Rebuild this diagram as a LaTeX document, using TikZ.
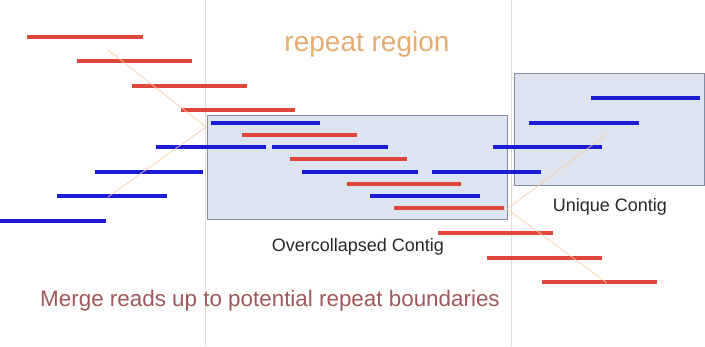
\documentclass[tikz,border=0pt]{standalone}
\usepackage{fontspec}
\setmainfont{Liberation Sans}
\definecolor{readred}{RGB}{224,70,58}
\definecolor{readblue}{RGB}{28,28,212}
\definecolor{contigfill}{RGB}{222,227,240}
\definecolor{contigdraw}{RGB}{130,140,162}
\definecolor{guide}{RGB}{228,220,208}
\definecolor{trace}{RGB}{244,206,166}
\definecolor{regiontext}{RGB}{232,172,112}
\definecolor{mergetext}{RGB}{160,88,90}
\definecolor{labeltext}{RGB}{40,40,40}
\tikzset{
  redread/.style={draw=readred, line width=3.2pt},
  blueread/.style={draw=readblue, line width=3.2pt},
  contig/.style={draw=contigdraw, fill=contigfill, line width=1pt},
  boundary/.style={draw=guide, line width=0.9pt},
  tracer/.style={draw=trace, line width=0.9pt, opacity=0.8},
}
\begin{document}
\begin{tikzpicture}[x=1pt,y=-1pt]
\useasboundingbox[fill=white] (0,0) rectangle (705,346);

% repeat boundaries
\draw[boundary] (205,0) -- (205,346);
\draw[boundary] (511,0) -- (511,346);

% contigs
\draw[contig] (207,115) rectangle (507,219);
\draw[contig] (514,73) rectangle (704,185);

% reads entering the repeat
\draw[redread] (27,37) -- (143,37);
\draw[redread] (77,61) -- (192,61);
\draw[redread] (132,86) -- (247,86);
\draw[redread] (181,110) -- (295,110);
\draw[blueread] (211,123) -- (320,123);
\draw[redread] (242,135) -- (357,135);
\draw[blueread] (156,147) -- (266,147);
\draw[blueread] (272,147) -- (388,147);
\draw[blueread] (493,147) -- (602,147);
\draw[redread] (290,159) -- (407,159);
\draw[blueread] (95,172) -- (203,172);
\draw[blueread] (302,172) -- (418,172);
\draw[blueread] (432,172) -- (541,172);
\draw[redread] (347,184) -- (461,184);
\draw[blueread] (57,196) -- (167,196);
\draw[blueread] (370,196) -- (480,196);
\draw[blueread] (0,221) -- (106,221);
\draw[redread] (394,208) -- (504,208);
\draw[redread] (438,233) -- (553,233);
\draw[redread] (487,258) -- (602,258);
\draw[redread] (542,282) -- (657,282);

% unique contig reads
\draw[blueread] (591,98) -- (700,98);
\draw[blueread] (529,123) -- (639,123);

% read paths converging on the repeat boundaries
\coordinate (inL) at (206,127);
\coordinate (inR) at (507,209);
\draw[tracer] (108,50) -- (inL) -- (108,197);
\draw[tracer] (607,134) -- (inR) -- (607,283);

% labels
\node[text=regiontext, font=\fontsize{28}{32}\selectfont, anchor=base] (region) at (367,51) {repeat region};
\node[text=labeltext, font=\fontsize{18}{21}\selectfont, anchor=base] (over) at (358,251) {Overcollapsed Contig};
\node[text=labeltext, font=\fontsize{18}{21}\selectfont, anchor=base] (uniq) at (610,211) {Unique Contig};
\node[text=mergetext, font=\fontsize{22.4}{26}\selectfont, anchor=base] (merge) at (270,306) {Merge reads up to potential repeat boundaries};
\end{tikzpicture}
\end{document}
